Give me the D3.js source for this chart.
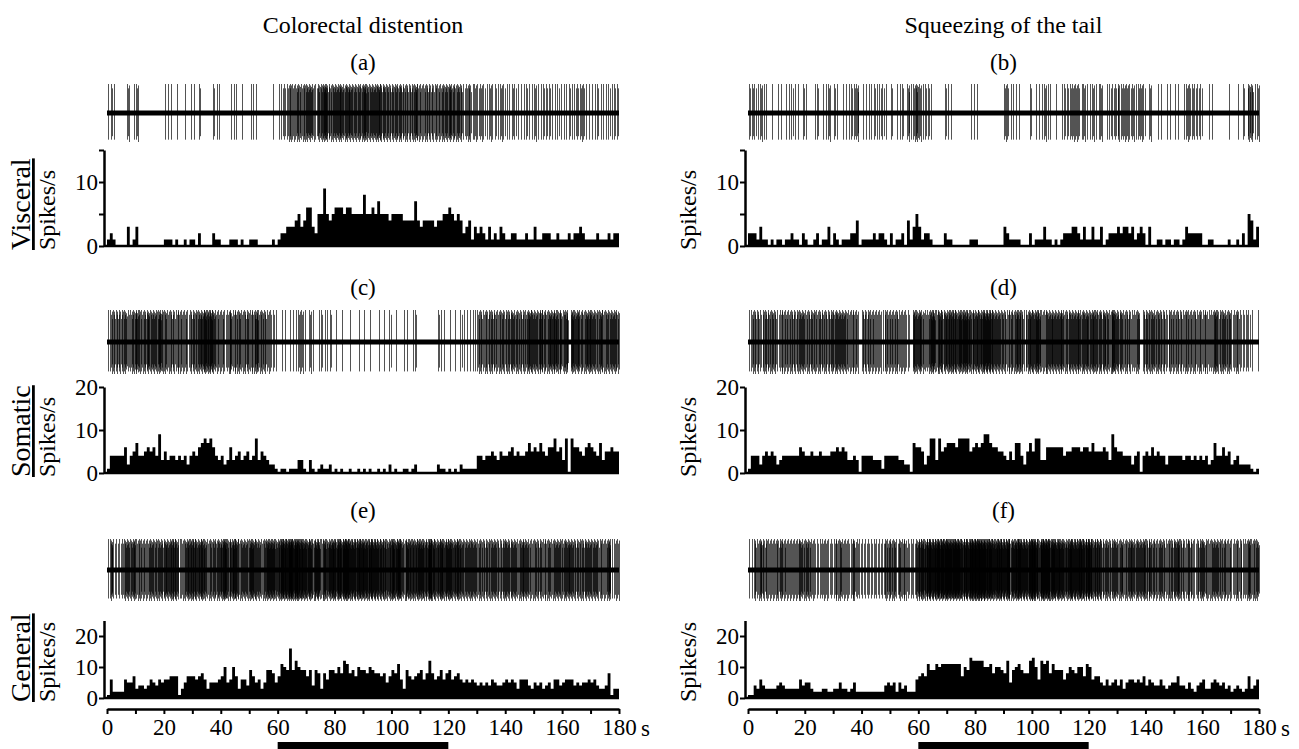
<!DOCTYPE html>
<meta charset="utf-8">
<script src="https://d3js.org/d3.v7.min.js"></script>
<style>
  body { margin: 0; background: #fff; }
</style>
<div id="chart"></div>
<script>

// ---- texts ----
var columnTitles = ["Colorectal distention", "Squeezing of the tail"];
var panelLetters = [["(a)", "(b)"], ["(c)", "(d)"], ["(e)", "(f)"]];
var rowNames = ["Visceral", "Somatic", "General"];
var yLabel = "Spikes/s";

// ---- axes ----
var yMaxes = [15, 20, 25];
var yTickValues = [[0, 5, 10, 15], [0, 10, 20], [0, 10, 20]];
var yTickLabels = [[0, 10], [0, 10, 20], [0, 10, 20]];
var xTickValues = [0, 10, 20, 30, 40, 50, 60, 70, 80, 90, 100, 110, 120, 130, 140, 150, 160, 170, 180];
var xTickLabels = [0, 20, 40, 60, 80, 100, 120, 140, 160, 180];
var stimulus = [60, 120];   // s

// ---- spike counts per 1-s bin (0..179 s) ----
var visceralCRD = [
  1,2,1,0,0,0,0,3,0,1,
  3,0,0,0,0,0,0,0,0,0,
  1,1,1,0,1,0,0,1,0,1,
  1,0,2,0,0,0,0,2,1,1,
  0,0,0,1,1,1,0,1,0,0,
  1,1,1,0,0,0,0,0,1,0,
  1,2,2,3,3,3,4,5,3,4,
  6,6,3,2,5,5,9,5,4,5,
  6,6,6,5,6,6,5,5,5,5,
  8,5,5,6,5,7,5,5,5,4,
  5,5,5,5,4,4,4,4,7,4,
  3,4,4,4,4,3,4,4,5,5,
  6,5,4,5,4,2,3,4,1,3,
  2,3,2,1,3,1,2,1,3,2,
  1,1,2,2,1,1,1,2,1,1,
  3,1,1,2,2,2,1,1,2,1,
  1,1,2,1,2,2,3,2,1,1,
  1,1,2,1,1,1,2,1,2,2
];
var visceralTail = [
  2,2,2,1,3,1,1,0,1,0,
  1,1,0,1,1,2,1,1,0,2,
  1,0,0,1,2,0,1,1,3,0,
  2,1,0,1,1,1,2,2,4,0,
  1,1,1,1,2,1,2,2,1,0,
  2,0,1,1,2,0,4,1,3,5,
  3,1,2,2,1,0,0,0,0,2,
  1,1,0,0,0,0,0,0,1,1,
  1,0,0,0,0,0,0,0,0,0,
  3,2,1,1,1,1,0,0,0,2,
  0,1,1,1,3,1,1,0,1,0,
  1,2,2,2,3,3,2,1,3,1,
  1,3,1,1,3,0,1,2,2,2,
  3,2,3,3,2,3,1,2,3,2,
  0,3,0,0,1,1,0,1,1,0,
  1,1,0,1,3,2,2,2,2,2,
  0,0,1,1,0,0,0,0,0,1,
  0,0,1,0,2,0,5,4,1,3
];
var somaticCRD = [
  1,4,4,4,4,4,6,2,4,5,
  7,4,4,5,6,5,6,4,9,3,
  5,3,4,4,3,4,3,4,2,4,
  5,4,6,7,8,7,8,6,4,3,
  4,2,3,6,3,4,5,3,4,5,
  3,4,8,3,5,4,3,2,2,1,
  0,1,1,0,1,1,1,3,3,1,
  0,3,1,0,1,2,1,1,2,0,
  1,0,1,0,0,1,0,0,1,0,
  1,0,1,0,0,1,0,1,0,2,
  0,1,0,0,1,1,0,1,2,0,
  0,0,0,0,0,0,2,1,1,0,
  1,0,1,0,2,1,1,1,1,1,
  4,4,3,4,4,5,4,3,5,4,
  4,5,6,4,5,4,4,5,7,5,
  6,5,7,5,4,6,6,8,5,6,
  3,8,0,8,6,6,5,4,6,7,
  6,5,4,7,3,5,5,6,5,5
];
var somaticTail = [
  1,4,4,4,2,4,5,4,5,4,
  2,3,4,4,4,4,4,4,6,5,
  4,4,5,4,4,5,4,4,4,5,
  5,6,5,6,5,3,3,4,3,0,
  4,4,4,4,3,3,3,1,4,4,
  4,4,4,3,3,2,2,0,7,6,
  6,5,2,4,8,8,3,8,5,6,
  7,7,7,6,8,8,8,8,5,6,
  7,6,7,9,9,7,6,6,5,5,
  4,3,5,3,7,7,4,2,5,7,
  5,8,8,3,3,6,6,6,6,6,
  6,4,5,5,6,6,6,5,6,6,
  5,7,5,5,5,6,5,3,9,6,
  5,5,4,4,4,2,4,5,0,4,
  5,4,6,4,5,4,4,2,4,4,
  4,4,4,3,4,4,3,4,3,4,
  3,4,2,3,7,4,4,6,4,5,
  2,3,4,2,2,2,2,1,0,1
];
var generalCRD = [
  1,6,2,2,2,2,6,5,5,7,
  3,4,4,3,4,6,5,4,6,5,
  6,6,7,7,7,1,3,5,7,7,
  7,6,7,8,6,3,5,5,5,6,
  7,10,5,6,10,7,3,6,6,4,
  9,7,5,6,3,5,9,9,8,5,
  7,11,10,9,16,9,12,10,9,9,
  7,9,4,9,8,3,8,6,9,9,
  8,10,8,12,11,8,9,7,10,9,
  9,8,10,9,8,8,7,8,5,7,
  9,8,11,6,3,9,7,6,7,8,
  9,6,8,12,8,6,7,9,6,8,
  9,6,7,8,6,5,6,5,6,5,
  4,5,4,5,4,6,5,4,4,5,
  6,5,6,5,3,6,6,6,4,3,
  5,4,5,3,4,5,3,6,6,4,
  5,6,6,6,4,5,4,5,5,6,
  5,6,4,3,3,4,8,1,3,3
];
var generalTail = [
  1,1,4,3,6,4,3,3,3,3,
  4,5,4,3,3,3,3,3,6,4,
  5,5,3,2,2,2,3,3,2,2,
  3,3,5,3,3,2,3,5,2,2,
  2,2,2,2,2,2,2,2,4,5,
  4,5,2,5,3,4,2,2,2,6,
  7,8,7,11,9,9,11,10,11,11,
  11,11,11,11,11,7,10,9,13,12,
  12,12,12,10,10,11,8,10,10,9,
  8,12,5,9,10,11,9,8,8,12,
  13,10,6,12,11,12,8,11,9,9,
  9,6,8,10,9,8,10,10,7,11,
  10,6,7,7,5,4,6,4,5,6,
  4,6,3,5,6,6,5,6,5,7,
  4,6,5,4,4,6,4,3,4,5,
  5,7,4,4,3,5,3,2,4,5,
  6,3,3,5,6,5,4,5,3,4,
  2,3,4,3,2,3,7,3,4,6
];

var counts = [[visceralCRD, visceralTail], [somaticCRD, somaticTail], [generalCRD, generalTail]];

// ---- layout / style ----
var W = 1299, H = 749;
var FONT = "'Liberation Serif', 'Times New Roman', Times, 'DejaVu Serif', serif";
var colRange = [[107, 619], [748, 1259]];
var rowLayout = [
  {letterY: 62,  traceY: 113, traceAmp: 29, histTop: 150,   histBase: 246},
  {letterY: 287, traceY: 342, traceAmp: 32, histTop: 387,   histBase: 473},
  {letterY: 510, traceY: 570, traceAmp: 31, histTop: 620.5, histBase: 698}
];
var xAxisY = 709;
// relative heights of successive spikes within a bin (ragged look of the trace)
var spikeUp   = [1, 0.85, 0.95, 0.72, 0.9, 0.8, 1, 0.68, 0.88];
var spikeDown = [0.92, 0.8, 1, 0.7, 0.86, 0.76, 0.95, 0.66, 0.9];

var svg = d3.select("#chart")
  .append("svg")
    .attr("width", W)
    .attr("height", H);

function label(sel) {
  return sel.style("font-family", FONT).attr("fill", "#000");
}

// spikes placed inside each bin from its count
function spikeList(c) {
  var t = [];
  c.forEach(function(n, i) {
    for (var k = 0; k < n; k++) t.push({t: i + (k + 0.5) / n, k: k});
  });
  return t;
}

colRange.forEach(function(cr, ci) {
  var x = d3.scaleLinear().domain([0, 180]).range(cr);
  var cx = (cr[0] + cr[1]) / 2;

  // column title
  label(svg.append("text"))
    .attr("x", cx).attr("y", 25).attr("dy", "0.35em")
    .attr("text-anchor", "middle")
    .style("font-size", "24px")
    .text(columnTitles[ci]);

  rowLayout.forEach(function(L, ri) {
    var data = counts[ri][ci];

    // panel letter
    label(svg.append("text"))
      .attr("x", cx).attr("y", L.letterY).attr("dy", "0.35em")
      .attr("text-anchor", "middle")
      .style("font-size", "23px")
      .text(panelLetters[ri][ci]);

    // raw trace
    var yt = d3.scaleLinear().domain([-1, 1]).range([L.traceY + L.traceAmp, L.traceY - L.traceAmp]);
    var tr = svg.append("g");
    tr.selectAll("line.spk")
      .data(spikeList(data))
      .enter()
      .append("line")
        .attr("class", "spk")
        .attr("x1", function(d) { return Math.round(x(d.t)) + 0.5; })
        .attr("x2", function(d) { return Math.round(x(d.t)) + 0.5; })
        .attr("y1", function(d) { return yt(-spikeDown[d.k % spikeDown.length]); })
        .attr("y2", function(d) { return yt(spikeUp[d.k % spikeUp.length]); })
        .attr("stroke", "#000")
        .attr("stroke-opacity", 0.75)
        .attr("stroke-width", 0.9);
    tr.append("line")
      .attr("x1", x(0)).attr("x2", x(180))
      .attr("y1", yt(0)).attr("y2", yt(0))
      .attr("stroke", "#000").attr("stroke-width", 5);

    // histogram as one step area
    var y = d3.scaleLinear().domain([0, yMaxes[ri]]).range([L.histBase, L.histTop]);
    var pts = data.map(function(d, i) { return [i, d]; });
    pts.push([180, data[data.length - 1]]);
    var area = d3.area()
      .curve(d3.curveStepAfter)
      .x(function(d) { return x(d[0]); })
      .y0(y(0))
      .y1(function(d) { return y(d[1]); });
    svg.append("path")
      .datum(pts)
      .attr("d", area)
      .attr("fill", "#000");

    // baseline
    svg.append("line")
      .attr("x1", x(0) - 3).attr("x2", x(180))
      .attr("y1", y(0)).attr("y2", y(0))
      .attr("stroke", "#000").attr("stroke-width", 2.5);

    // y axis
    var ya = svg.append("g")
      .attr("transform", "translate(" + (x(0) - 3) + ",0)")
      .call(d3.axisLeft(y)
        .tickValues(yTickValues[ri])
        .tickFormat(function(d) { return yTickLabels[ri].indexOf(d) >= 0 ? d : ""; })
        .tickSizeInner(5).tickSizeOuter(0).tickPadding(1));
    ya.select(".domain").attr("stroke-width", 2.5);
    ya.selectAll(".tick line").attr("stroke-width", 2);
    label(ya.selectAll("text")).style("font-size", "23px");

    // Spikes/s
    label(svg.append("text"))
      .attr("transform", "translate(" + (x(0) - 52) + "," + (L.histBase + 4) + ")rotate(-90)")
      .attr("text-anchor", "start")
      .style("font-size", "24px")
      .text(yLabel);

    // row name (left column only)
    if (ci === 0) {
      label(svg.append("text"))
        .attr("transform", "translate(30," + (L.histBase + 4) + ")rotate(-90)")
        .attr("text-anchor", "start")
        .style("font-size", "28px")
        .style("text-decoration", "underline")
        .text(rowNames[ri]);
    }
  });

  // time axis under the last row
  var xa = svg.append("g")
    .attr("transform", "translate(0," + xAxisY + ")")
    .call(d3.axisBottom(x)
      .tickValues(xTickValues)
      .tickFormat(function(d) { return xTickLabels.indexOf(d) >= 0 ? d : ""; })
      .tickSizeInner(5).tickSizeOuter(0).tickPadding(5));
  xa.select(".domain").attr("stroke-width", 2.5);
  xa.selectAll(".tick line").attr("stroke-width", 2);
  label(xa.selectAll("text")).style("font-size", "23px");

  label(svg.append("text"))
    .attr("x", x(180) + 22).attr("y", xAxisY + 27)
    .style("font-size", "23px")
    .text("s");

  // stimulus bar
  svg.append("rect")
    .attr("x", x(stimulus[0]))
    .attr("y", 742)
    .attr("width", x(stimulus[1]) - x(stimulus[0]))
    .attr("height", 7)
    .attr("fill", "#000");
});

</script>
